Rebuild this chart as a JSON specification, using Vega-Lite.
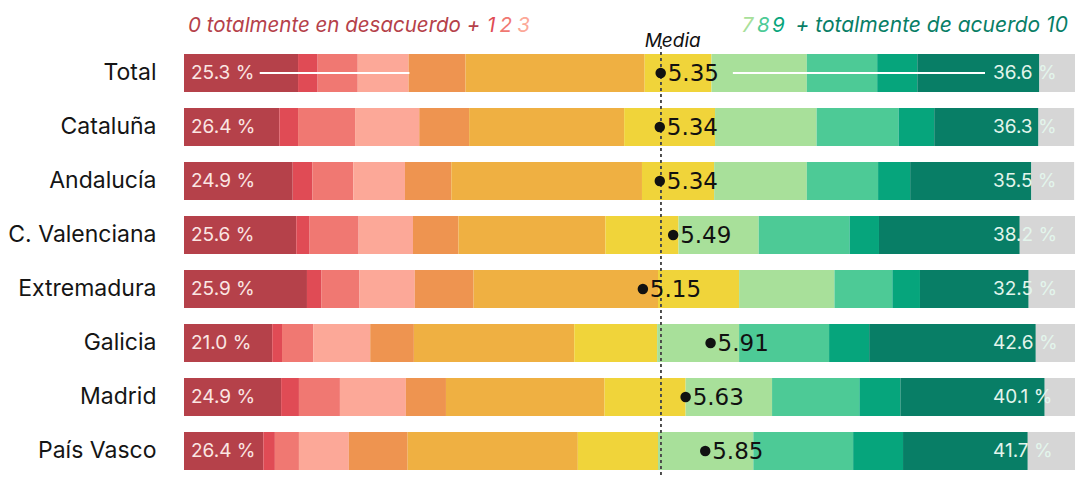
{
  "$schema": "https://vega.github.io/schema/vega-lite/v6.json",
  "autosize": "none",
  "width": 891,
  "height": 432,
  "padding": {"left": 184, "top": 46, "right": 0, "bottom": 8},
  "background": "white",
  "config": {"view": {"stroke": null}, "font": "Inter"},
  "data": {"values": [
    {"region": "Total", "p00": 12.8, "p01": 2.2, "p02": 4.5, "p03": 5.7, "p04": 6.4, "p05": 20.1, "p06": 7.5, "p07": 10.7, "p08": 7.9, "p09": 4.5, "p10": 13.7, "pns": 4.0, "neg": "25.3 %", "pos": "36.6 %", "mean": 5.35},
    {"region": "Cataluña", "p00": 10.7, "p01": 2.1, "p02": 6.4, "p03": 7.2, "p04": 5.6, "p05": 17.4, "p06": 10.2, "p07": 11.4, "p08": 9.2, "p09": 4.0, "p10": 11.7, "pns": 4.0, "neg": "26.4 %", "pos": "36.3 %", "mean": 5.34},
    {"region": "Andalucía", "p00": 12.2, "p01": 2.2, "p02": 4.6, "p03": 5.8, "p04": 5.2, "p05": 21.4, "p06": 8.1, "p07": 10.4, "p08": 8.0, "p09": 3.6, "p10": 13.6, "pns": 4.8, "neg": "24.9 %", "pos": "35.5 %", "mean": 5.34},
    {"region": "C. Valenciana", "p00": 12.6, "p01": 1.5, "p02": 5.5, "p03": 6.1, "p04": 5.1, "p05": 16.5, "p06": 8.2, "p07": 9.0, "p08": 10.2, "p09": 3.3, "p10": 15.8, "pns": 6.3, "neg": "25.6 %", "pos": "38.2 %", "mean": 5.49},
    {"region": "Extremadura", "p00": 13.8, "p01": 1.6, "p02": 4.3, "p03": 6.2, "p04": 6.6, "p05": 20.7, "p06": 9.1, "p07": 10.7, "p08": 6.5, "p09": 3.1, "p10": 12.2, "pns": 5.2, "neg": "25.9 %", "pos": "32.5 %", "mean": 5.15},
    {"region": "Galicia", "p00": 9.9, "p01": 1.1, "p02": 3.5, "p03": 6.4, "p04": 4.9, "p05": 18.0, "p06": 9.3, "p07": 9.2, "p08": 10.1, "p09": 4.5, "p10": 18.7, "pns": 4.4, "neg": "21.0 %", "pos": "42.6 %", "mean": 5.91},
    {"region": "Madrid", "p00": 10.9, "p01": 2.0, "p02": 4.6, "p03": 7.4, "p04": 4.5, "p05": 17.8, "p06": 9.1, "p07": 9.7, "p08": 9.8, "p09": 4.6, "p10": 16.2, "pns": 3.4, "neg": "24.9 %", "pos": "40.1 %", "mean": 5.63},
    {"region": "País Vasco", "p00": 8.9, "p01": 1.3, "p02": 2.7, "p03": 5.6, "p04": 6.6, "p05": 19.1, "p06": 9.0, "p07": 10.7, "p08": 11.2, "p09": 5.6, "p10": 14.0, "pns": 5.3, "neg": "26.4 %", "pos": "41.7 %", "mean": 5.85}
  ]},
  "encoding": {
    "y": {
      "field": "region", "type": "nominal",
      "sort": ["Total", "Cataluña", "Andalucía", "C. Valenciana", "Extremadura", "Galicia", "Madrid", "País Vasco"],
      "scale": {"paddingInner": 0.2963, "paddingOuter": 0.1481},
      "axis": {"title": null, "ticks": false, "domain": false, "labelPadding": 28, "labelFontSize": 23, "labelFontWeight": 400, "labelColor": "#151515", "labelFont": "Inter"}
    }
  },
  "layer": [
    {
      "transform": [{"fold": ["p00", "p01", "p02", "p03", "p04", "p05", "p06", "p07", "p08", "p09", "p10", "pns"], "as": ["key", "value"]}],
      "mark": {"type": "bar"},
      "encoding": {
        "x": {"field": "value", "type": "quantitative", "stack": "zero", "scale": {"domain": [0, 100]}, "axis": null},
        "color": {"field": "key", "type": "nominal", "legend": null,
          "scale": {"domain": ["p00", "p01", "p02", "p03", "p04", "p05", "p06", "p07", "p08", "p09", "p10", "pns"],
                    "range": ["#b5414a", "#e04b55", "#f07872", "#fca898", "#ee9450", "#efb042", "#f0d43a", "#a8e09a", "#4dca96", "#06a57c", "#087e66", "#d6d6d6"]}},
        "order": {"field": "key", "type": "ordinal"}
      }
    },
    {
      "mark": {"type": "rule", "color": "#4a4a4a", "strokeDash": [3, 3], "strokeWidth": 1.2},
      "encoding": {"x": {"datum": 5.35, "type": "quantitative", "scale": {"domain": [0, 10]}, "axis": null}, "y": null}
    },
    {
      "mark": {"type": "text", "align": "left", "baseline": "middle", "dx": 7, "fontSize": 19, "color": "#fbe6e3", "font": "Inter"},
      "encoding": {"x": {"datum": 0, "type": "quantitative", "scale": {"domain": [0, 100]}, "axis": null}, "text": {"field": "neg"}}
    },
    {
      "mark": {"type": "text", "align": "left", "baseline": "middle", "dx": -82, "fontSize": 19, "color": "#e3f5ec", "font": "Inter"},
      "encoding": {"x": {"datum": 100, "type": "quantitative", "scale": {"domain": [0, 100]}, "axis": null}, "text": {"field": "pos"}}
    },
    {
      "transform": [{"filter": "datum.region === 'Total'"}],
      "mark": {"type": "rule", "color": "white", "strokeWidth": 2},
      "encoding": {"x": {"datum": 8.5, "type": "quantitative", "scale": {"domain": [0, 100]}, "axis": null}, "x2": {"datum": 25.3}}
    },
    {
      "transform": [{"filter": "datum.region === 'Total'"}],
      "mark": {"type": "rule", "color": "white", "strokeWidth": 2},
      "encoding": {"x": {"datum": 61.6, "type": "quantitative", "scale": {"domain": [0, 100]}, "axis": null}, "x2": {"datum": 89.9}}
    },
    {
      "mark": {"type": "point", "filled": true, "size": 110, "color": "#111111", "opacity": 1},
      "encoding": {"x": {"field": "mean", "type": "quantitative", "scale": {"domain": [0, 10]}, "axis": null}}
    },
    {
      "mark": {"type": "text", "align": "left", "baseline": "middle", "dx": 7, "dy": 1, "fontSize": 23, "color": "#111111", "font": "DejaVu Sans"},
      "encoding": {"x": {"field": "mean", "type": "quantitative", "scale": {"domain": [0, 10]}, "axis": null}, "text": {"field": "mean", "format": ".2f"}}
    },
    {
      "transform": [{"filter": "datum.region === 'Total'"}],
      "mark": {"type": "text", "align": "left", "baseline": "middle", "dx": -16, "dy": -32, "fontSize": 19, "fontStyle": "italic", "color": "#111111", "font": "Inter"},
      "encoding": {"x": {"datum": 5.35, "type": "quantitative", "scale": {"domain": [0, 10]}, "axis": null}, "text": {"value": "Media"}}
    },
    {
      "transform": [{"filter": "datum.region === 'Total'"}],
      "mark": {"type": "text", "align": "left", "baseline": "middle", "dx": 4, "dy": -47, "fontSize": 20.5, "fontStyle": "italic", "color": "#b5414a", "font": "Inter"},
      "encoding": {"x": {"datum": 0, "type": "quantitative", "scale": {"domain": [0, 100]}, "axis": null}, "text": {"value": "0 totalmente en desacuerdo +"}}
    },
    {
      "transform": [{"filter": "datum.region === 'Total'"}],
      "mark": {"type": "text", "align": "left", "baseline": "middle", "dy": -47, "fontSize": 20.5, "fontStyle": "italic", "color": "#e04b55", "font": "Inter"},
      "encoding": {"x": {"datum": 34.0, "type": "quantitative", "scale": {"domain": [0, 100]}, "axis": null}, "text": {"value": "1"}}
    },
    {
      "transform": [{"filter": "datum.region === 'Total'"}],
      "mark": {"type": "text", "align": "left", "baseline": "middle", "dy": -47, "fontSize": 20.5, "fontStyle": "italic", "color": "#f07872", "font": "Inter"},
      "encoding": {"x": {"datum": 35.4, "type": "quantitative", "scale": {"domain": [0, 100]}, "axis": null}, "text": {"value": "2"}}
    },
    {
      "transform": [{"filter": "datum.region === 'Total'"}],
      "mark": {"type": "text", "align": "left", "baseline": "middle", "dy": -47, "fontSize": 20.5, "fontStyle": "italic", "color": "#fca898", "font": "Inter"},
      "encoding": {"x": {"datum": 37.4, "type": "quantitative", "scale": {"domain": [0, 100]}, "axis": null}, "text": {"value": "3"}}
    },
    {
      "transform": [{"filter": "datum.region === 'Total'"}],
      "mark": {"type": "text", "align": "left", "baseline": "middle", "dy": -47, "fontSize": 20.5, "fontStyle": "italic", "color": "#a8e09a", "font": "Inter"},
      "encoding": {"x": {"datum": 62.6, "type": "quantitative", "scale": {"domain": [0, 100]}, "axis": null}, "text": {"value": "7"}}
    },
    {
      "transform": [{"filter": "datum.region === 'Total'"}],
      "mark": {"type": "text", "align": "left", "baseline": "middle", "dy": -47, "fontSize": 20.5, "fontStyle": "italic", "color": "#4dca96", "font": "Inter"},
      "encoding": {"x": {"datum": 64.3, "type": "quantitative", "scale": {"domain": [0, 100]}, "axis": null}, "text": {"value": "8"}}
    },
    {
      "transform": [{"filter": "datum.region === 'Total'"}],
      "mark": {"type": "text", "align": "left", "baseline": "middle", "dy": -47, "fontSize": 20.5, "fontStyle": "italic", "color": "#06a57c", "font": "Inter"},
      "encoding": {"x": {"datum": 66.0, "type": "quantitative", "scale": {"domain": [0, 100]}, "axis": null}, "text": {"value": "9"}}
    },
    {
      "transform": [{"filter": "datum.region === 'Total'"}],
      "mark": {"type": "text", "align": "right", "baseline": "middle", "dy": -47, "fontSize": 21, "fontStyle": "italic", "color": "#087e66", "font": "Inter"},
      "encoding": {"x": {"datum": 99.2, "type": "quantitative", "scale": {"domain": [0, 100]}, "axis": null}, "text": {"value": "+ totalmente de acuerdo 10"}}
    }
  ],
  "resolve": {"scale": {"x": "independent"}}
}
